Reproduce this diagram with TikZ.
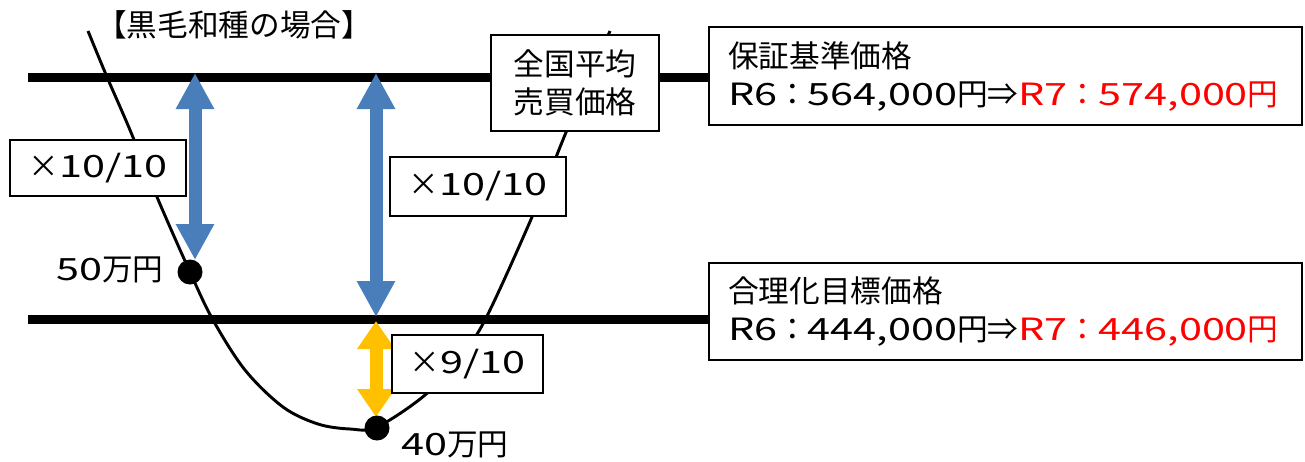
\documentclass[tikz,border=0pt]{standalone}
\usepackage{fontspec}
\setmainfont{Noto Sans CJK JP}
\newfontfamily\lw[FakeStretch=1.35]{Noto Sans CJK JP}
\usetikzlibrary{arrows.meta}
\definecolor{ablue}{RGB}{74,126,187}
\definecolor{ayellow}{RGB}{255,192,0}
\definecolor{ared}{RGB}{255,0,0}
\tikzset{
  bar/.style={line width=6.75pt, line cap=butt},
  curve/.style={line width=2.2pt},
  box/.style={draw=black, line width=1.1pt, fill=white, inner sep=0pt, font=\fontsize{23}{28.5}\selectfont},
  wide/.style={box, anchor=center, text width=416.25pt, inner xsep=14.25pt, align=left},
  dot/.style={circle, fill=black, inner sep=0pt, minimum size=18.75pt},
  lbl/.style={inner sep=0pt, font=\fontsize{23}{28.5}\selectfont},
  dbl/.style={line width=9.75pt, {Triangle[length=27pt,width=27pt]}-{Triangle[length=27pt,width=27pt]}},
  dbly/.style={line width=9.75pt, {Triangle[length=21pt,width=27pt]}-{Triangle[length=21pt,width=27pt]}},
}
\begin{document}
\begin{tikzpicture}[x=0.75pt,y=-0.75pt]
\useasboundingbox (0,0) rectangle (1305,461);
% title
\node[lbl] (title) at (234,25) {【黒毛和種の場合】};
% right boxes (positions needed for lines)
\path (1005.5,76) coordinate (gpos) (1005.5,311.5) coordinate (tpos);
\coordinate (l1) at (28,77);
\coordinate (l2) at (28,319.5);
\node[wide, minimum height=73.5pt] (guar) at (gpos) {保証基準価格\\{\lw R6}：{\lw 564,000}円⇒\textcolor{ared}{{\lw R7}：{\lw 574,000}円}};
\node[wide, minimum height=72.75pt] (targ) at (tpos) {合理化目標価格\\{\lw R6}：{\lw 444,000}円⇒\textcolor{ared}{{\lw R7}：{\lw 446,000}円}};
% price lines
\draw[bar] (l1) -- (l1 -| guar.west);
\draw[bar] (l2) -- (l2 -| targ.west);
% curve
\draw[curve] plot[smooth, tension=0.55] coordinates {(88,31) (107,77) (130,130) (157,197) (190,272) (213,320) (245,370) (283,407) (318,424) (350,429) (377,427) (425,395) (460,356) (485,320) (532,217) (567,130) (610,31)};
% arrows
\coordinate (a1s) at (195,73);
\coordinate (a1e) at (195,260);
\coordinate (a2s) at (376,73);
\coordinate (a2e) at (376,317);
\coordinate (a3s) at (376,321);
\coordinate (a3e) at (376,417);
\draw[dbl, ablue] (a1s) -- (a1e);
\draw[dbl, ablue] (a2s) -- (a2e);
\draw[dbly, ayellow] (a3s) -- (a3e);
% boxes
\node[box, minimum width=132pt, minimum height=42pt] (b1) at (98,168) {×{\lw 10/10}};
\node[box, minimum width=132pt, minimum height=44.25pt] (b2) at (478,186.5) {×{\lw 10/10}};
\node[box, minimum width=113.25pt, minimum height=43.5pt] (b3) at (467.5,364) {×{\lw 9/10}};
\node[box, minimum width=126pt, minimum height=72pt, align=center] (avg) at (575,83) {全国平均\\売買価格};
% dots and labels
\node[dot] (d50) at (190,272) {};
\node[dot] (d40) at (377,428) {};
\node[lbl] (t50) at (110,270) {{\lw 50}万円};
\node[lbl] (t40) at (455,445) {{\lw 40}万円};
\end{tikzpicture}
\end{document}
